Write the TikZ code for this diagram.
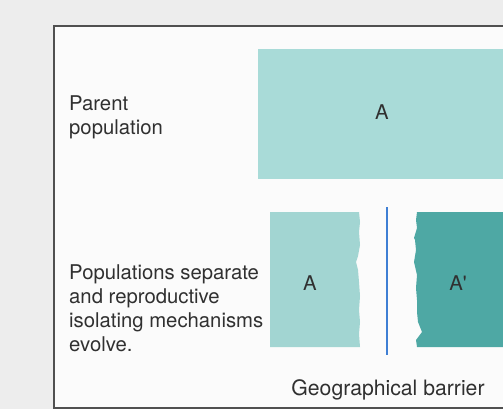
\documentclass[tikz,border=0pt]{standalone}
\usepackage{fontspec}
\setmainfont{TeX Gyre Heros}
\begin{document}
\begin{tikzpicture}[x=1pt,y=-1pt]
\definecolor{bggray}{HTML}{EDEDED}
\definecolor{inner}{HTML}{FBFBFB}
\definecolor{frameline}{HTML}{505050}
\definecolor{paleteal}{HTML}{A9DBD8}
\definecolor{lightteal}{HTML}{A2D5D2}
\definecolor{darkteal}{HTML}{4EA8A4}
\definecolor{barrierblue}{HTML}{3F7FD4}
\definecolor{txt}{HTML}{303030}
\tikzset{
  lbl/.style={inner sep=0pt, text=txt, font=\fontsize{20.3}{24}\selectfont, align=left},
  poplbl/.style={inner sep=0pt, text=txt, font=\fontsize{20.3}{24}\selectfont}
}
\useasboundingbox (0,0) rectangle (503,409);
\fill[bggray] (0,0) rectangle (503,409);
\fill[inner] (54,26) rectangle (503,408);
\draw[frameline, line width=1.2pt] (503,26) -- (54,26) -- (54,408) -- (503,408);
% parent population box
\fill[paleteal] (258,49) rectangle (503,179);
\node[poplbl, anchor=base] (ptA) at (382,120) {A};
\node[lbl, anchor=north west] (plbl) at (69,96) {Parent\\population};
% separated populations
\fill[lightteal] (270,212) -- (359,212) -- (360,222) -- (359,232) -- (360,245) -- (358,256)
  -- (356,262) -- (358,270) -- (359,282) -- (360,296) -- (359,310) -- (360,322)
  -- (359,334) -- (360,347) -- (270,347) -- cycle;
\node[poplbl, anchor=base] (sepA) at (310,290) {A};
\fill[darkteal] (417,212) -- (503,212) -- (503,347) -- (417,347) -- (416,340)
  -- (422,332) -- (418,322) -- (417,312) -- (417,300) -- (416,288) -- (417,275)
  -- (414,262) -- (416,250) -- (415,240) -- (414,238) -- (417,228) -- (416,220) -- cycle;
\node[poplbl, anchor=base] (sepB) at (458,290) {A\textquotesingle};
\draw[barrierblue, line width=2pt] (387,207) -- (387,355);
\node[lbl, anchor=north west] (slbl) at (69,264) {Populations separate\\and reproductive\\isolating mechanisms\\evolve.};
\node[poplbl, anchor=base, font=\fontsize{21.2}{24}\selectfont] (geo) at (388,395) {Geographical barrier};
\end{tikzpicture}
\end{document}
